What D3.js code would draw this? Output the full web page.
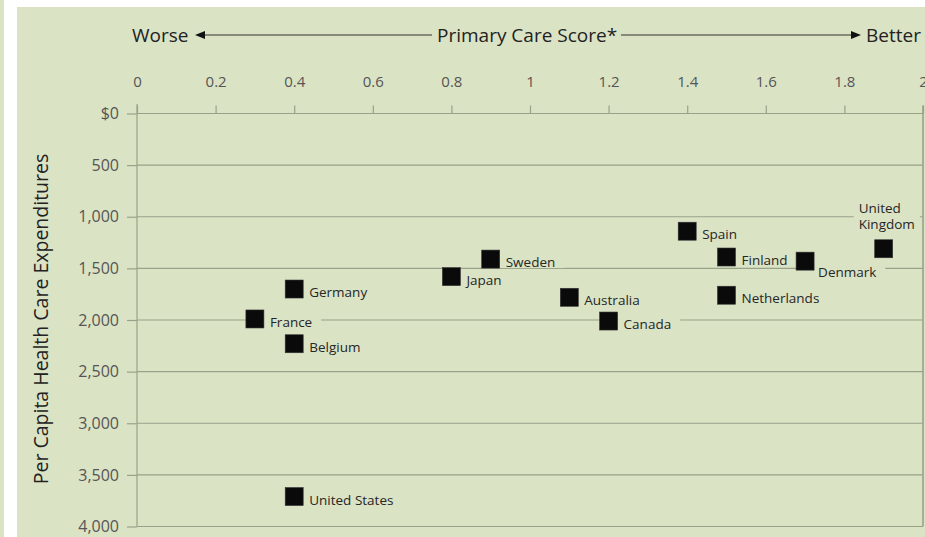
<!DOCTYPE html>
<html><head><meta charset="utf-8">
<script src="https://cdn.jsdelivr.net/npm/d3@7"></script>
<style>
html,body{margin:0;padding:0;background:#fff;}
svg{display:block;font-family:"Open Sans",sans-serif;}
</style></head>
<body><svg id="c" width="925" height="537"></svg>
<script>
const countries = ["United States","Germany","France","Belgium","Japan","Sweden","Australia","Canada","Spain","Finland","Netherlands","Denmark","United Kingdom"];
const scores = [0.4,0.4,0.3,0.4,0.8,0.9,1.1,1.2,1.4,1.5,1.5,1.7,1.9];
const expenditures = [3710,1700,1990,2230,1580,1410,1780,2010,1140,1390,1760,1430,1310];
const xTicks = [0,0.2,0.4,0.6,0.8,1,1.2,1.4,1.6,1.8,2];
const yTicks = [0,500,1000,1500,2000,2500,3000,3500,4000];

// label placement (styling only)
const labelPos = {
  "Denmark": {dx: 13, dy: 11},
  "United Kingdom": {dx: -25, dy: -41, lines: ["United","Kingdom"], block: true}
};

const bg = "#dbe3c5", grid = "#98a288", ink = "#262626";
const svg = d3.select("#c");
svg.append("rect").attr("x",0).attr("y",0).attr("width",4).attr("height",537).attr("fill",bg);
svg.append("rect").attr("x",17).attr("y",7).attr("width",908).attr("height",530).attr("fill",bg);

const x = d3.scaleLinear().domain([0,2]).range([137,923]);
const y = d3.scaleLinear().domain([0,4000]).range([113.5,526.5]);

// gridlines
svg.append("g").selectAll("line").data(yTicks).join("line")
  .attr("x1",x(0)).attr("x2",x(2)).attr("y1",d=>y(d)).attr("y2",d=>y(d))
  .attr("stroke",grid).attr("stroke-width",1.2);
svg.append("line").attr("x1",x(0)).attr("x2",x(0)).attr("y1",104).attr("y2",y(4000)).attr("stroke",grid).attr("stroke-width",1.2);
svg.append("line").attr("x1",x(2)).attr("x2",x(2)).attr("y1",y(0)-8).attr("y2",y(4000)).attr("stroke",grid).attr("stroke-width",1.6);

// top axis
const gx = svg.append("g").attr("transform",`translate(0,${y(0)})`)
  .call(d3.axisTop(x).tickValues(xTicks).tickSize(8).tickPadding(19).tickFormat(d3.format("~g")));
gx.select(".domain").remove();
gx.selectAll(".tick line").attr("stroke",grid).attr("stroke-width",1.2);
gx.selectAll(".tick text").attr("fill","#555").style("font-size","15px").style("font-family","'Open Sans',sans-serif");

// left axis
const gy = svg.append("g").attr("transform",`translate(${x(0)},0)`)
  .call(d3.axisLeft(y).tickValues(yTicks).tickSize(10).tickPadding(8).tickFormat(d=> d===0 ? "$0" : d3.format(",")(d)));
gy.select(".domain").remove();
gy.selectAll(".tick line").attr("stroke",grid).attr("stroke-width",1.2);
gy.selectAll(".tick text").attr("fill","#555").style("font-size","16px").style("font-family","'Open Sans',sans-serif");

// y axis title
svg.append("text").attr("transform","translate(48,319) rotate(-90)").attr("text-anchor","middle")
  .attr("fill","#222").style("font-size","19.5px").text("Per Capita Health Care Expenditures");

// top title with arrows
const ty = 35;
svg.append("text").attr("x",132).attr("y",ty+7).attr("fill","#222").style("font-size","19px").text("Worse");
svg.append("text").attr("x",437).attr("y",ty+7).attr("fill","#222").style("font-size","19px").text("Primary Care Score*");
svg.append("text").attr("x",921).attr("y",ty+7).attr("text-anchor","end").attr("fill","#222").style("font-size","19px").text("Better");
svg.append("line").attr("x1",203).attr("x2",432).attr("y1",ty).attr("y2",ty).attr("stroke","#333").attr("stroke-width",1.2);
svg.append("path").attr("d",`M195,${ty} L205,${ty-4} L205,${ty+4}Z`).attr("fill","#111");
svg.append("line").attr("x1",621).attr("x2",852).attr("y1",ty).attr("y2",ty).attr("stroke","#333").attr("stroke-width",1.2);
svg.append("path").attr("d",`M861,${ty} L851,${ty-4} L851,${ty+4}Z`).attr("fill","#111");

// points + labels
const data = countries.map((c,i)=>({c, s:scores[i], e:expenditures[i]}));
const sq = 18;
const g = svg.append("g");
data.forEach(d=>{
  const cx = x(d.s), cy = y(d.e);
  const p = labelPos[d.c] || {dx: 15, dy: 3};
  const lines = p.lines || [d.c];
  const lg = g.append("g");
  const base = cy + p.dy + 5;
  const t = lg.append("text").attr("fill",ink).style("font-size","13.5px");
  lines.forEach((l,k)=> t.append("tspan").attr("x",cx+p.dx).attr("y",base+k*16.5).text(l));
  const bb = t.node().getBBox();
  if (p.block) {
    lg.insert("rect","text").attr("x",bb.x-5).attr("y",bb.y).attr("width",bb.width+10).attr("height",bb.height).attr("fill",bg);
  } else {
    lg.insert("rect","text").attr("x",bb.x-8).attr("y",base-10).attr("width",bb.width+17).attr("height",11).attr("fill",bg);
  }
  g.append("rect").attr("x",cx-sq/2).attr("y",cy-sq/2).attr("width",sq).attr("height",sq)
    .attr("fill","#0a0a0a").attr("stroke","#333").attr("stroke-width",0.6);
});
</script></body></html>
